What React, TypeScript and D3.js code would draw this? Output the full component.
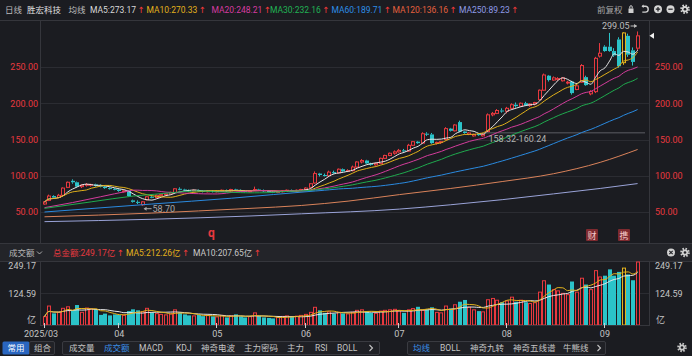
import React, { useEffect } from 'react';
import * as d3 from 'd3';

// ---------- data ----------
const opens = [
  61, 66, 72, 70, 73, 84, 93, 91, 85, 87,
  87, 88, 87, 85, 83, 82, 81, 78, 79, 66,
  64, 60, 67, 71, 70, 73, 74, 75, 77, 82,
  81, 80, 79, 80, 79, 78, 79, 78, 79, 80,
  79, 81, 80, 79, 78, 80, 81, 80, 79, 78,
  77, 78, 79, 80, 79, 80, 81, 84, 90, 103,
  101, 100, 105, 104, 109, 106, 107, 112, 119, 121,
  117, 115, 117, 124, 128, 131, 133, 135, 134, 142,
  147, 145, 158, 157, 145, 146, 150, 165, 162, 174,
  161, 157, 155, 158, 155, 161, 184, 186, 190, 189,
  193, 198, 196, 200, 197, 199, 205, 218, 238, 232,
  233, 231, 228, 230, 219, 229, 236, 213, 216, 265,
  278, 278, 272, 288, 256, 293, 273, 276,
];
const highs = [
  65, 74, 73, 75, 84, 92, 95, 92, 88, 90,
  89, 89, 88, 86, 84, 83, 82, 80, 80, 67,
  66, 65, 72, 73, 74, 75, 76, 78, 83, 84,
  82, 81, 81, 81, 80, 80, 80, 80, 81, 81,
  82, 82, 81, 80, 80, 85, 82, 81, 80, 79,
  79, 80, 81, 81, 81, 82, 84, 90, 106, 104,
  103, 107, 107, 110, 110, 109, 114, 120, 123, 122,
  118, 118, 125, 129, 132, 135, 137, 137, 144, 148,
  148, 160, 160, 159, 147, 148, 167, 166, 171, 176,
  162, 160, 158, 158, 158.32, 186, 188, 192, 193, 195,
  200, 201, 201, 202, 200, 202, 219, 241, 239, 237,
  236, 236, 231, 231, 226, 254, 238, 218, 264, 283,
  280, 297, 276, 291, 298, 296, 277, 299.05,
];
const lows = [
  60, 65, 68, 69, 72, 83, 89, 84, 83, 85,
  85, 85, 84, 82, 81, 80, 78, 77, 71, 63,
  61, 58.7, 66, 69, 69, 72, 73, 74, 76, 80,
  79, 78, 78, 78, 77, 77, 77, 77, 78, 78,
  78, 79, 78, 77, 77, 79, 79, 78, 77, 76,
  76, 77, 78, 78, 78, 79, 80, 83, 89, 99,
  99, 99, 103, 103, 105, 105, 106, 111, 117, 116,
  114, 114, 116, 123, 127, 129, 132, 133, 133, 141,
  144, 144, 155, 144, 143, 144, 149, 161, 161, 160,
  158, 156, 154, 155, 154, 160.24, 182, 185, 187, 186,
  191, 194, 195, 196, 195, 197, 204, 217, 230, 231,
  231, 230, 226, 212, 218, 228, 224, 211, 214, 263,
  271, 271, 264, 249, 253, 264, 252, 272,
];
const closes = [
  64, 72, 70, 73, 83, 91, 91, 85, 87, 88,
  88, 86, 85, 83, 82, 81, 79, 79, 72, 64,
  63, 64, 71, 70, 73, 74, 75, 77, 82, 81,
  80, 79, 80, 79, 78, 79, 78, 79, 80, 79,
  81, 80, 79, 78, 79, 81, 80, 79, 78, 77,
  78, 79, 80, 79, 80, 81, 83, 89, 103, 101,
  100, 105, 104, 109, 106, 107, 112, 119, 121, 117,
  115, 117, 124, 128, 131, 133, 135, 134, 142, 147,
  145, 158, 157, 145, 146, 147, 165, 162, 170, 161,
  159, 159, 157, 156, 157, 184, 186, 190, 189, 193,
  198, 196, 200, 197, 199, 201, 218, 239, 232, 235,
  234, 235, 229, 214, 224, 252, 225, 216, 262, 269,
  272, 272, 266, 251, 297, 267, 257, 293,
];
// 成交额 (亿)
const volumes = [
  33, 75, 46, 50, 66, 72, 59, 79, 50, 67, 64, 62, 40, 45, 38, 42,
  40, 38, 55, 62, 58, 52, 66, 48, 45, 42, 40, 44, 60, 50, 42, 38, 36, 40, 35, 38, 34,
  32, 38, 30, 36, 42, 34, 30, 33, 48, 36, 30, 28, 26, 30, 34, 36, 32, 35, 38,
  42, 50, 70, 58, 48, 52, 45, 50, 46, 44, 50, 58, 60, 55, 48, 46, 55, 58, 60, 62,
  55, 48, 60, 65, 72, 58, 62, 70, 50, 48, 75, 65, 80, 92, 99, 70, 60, 55, 52, 100, 105, 98, 90,
  95, 110, 92, 98, 90, 85, 88, 130, 175, 160, 140, 135, 125, 120, 172, 130, 185, 160, 140,
  215, 190, 195, 220, 195, 210, 225, 200, 177, 249.17,
];
const highlightIdx = 124;

// moving-average lines read off the picture where the earlier history is not shown
const ma20HeadIdx = [0, 6, 12, 18];
const ma20HeadVal = [56, 63, 71, 79];
const ma30HeadIdx = [0, 10, 19, 28];
const ma30HeadVal = [55, 64, 72, 77];
const ma60HeadIdx = [0, 23, 40, 58];
const ma60HeadVal = [50, 61, 69, 79];
const ma120Idx = [0, 23, 33, 44, 55, 65, 76, 87, 98, 109, 119, 127];
const ma120Val = [43.4, 48.5, 51.5, 55, 59, 65, 74, 82.5, 92, 102.8, 118.5, 136.2];
const ma250Idx = [0, 23, 44, 55, 76, 87, 98, 109, 119, 127];
const ma250Val = [36.7, 40, 44.5, 47.5, 54, 60, 67, 75, 82.5, 89.2];

const monthIdx = [0, 16, 37, 56, 76, 99, 120];
const monthLabels = ['2025/03', '04', '05', '06', '07', '08', '09'];
const priceTicks = [50, 100, 150, 200, 250];
const volTicks = [249.17, 124.59];

const maNames = ['MA5', 'MA10', 'MA20', 'MA30', 'MA60', 'MA120', 'MA250'];
const maLast = ['273.17', '270.33', '248.21', '232.16', '189.71', '136.16', '89.23'];
const volLegend = ['总金额:249.17亿', 'MA5:212.26亿', 'MA10:207.65亿'];
const tabs1 = ['成交量', '成交额', 'MACD', 'KDJ', '神奇电波', '主力密码', '主力', 'RSI', 'BOLL'];
const tabs2 = ['均线', 'BOLL', '神奇九转', '神奇五线谱', '牛熊线'];

// ---------- styles ----------
const BG = '#1b1c21';
const PANEL_HEAD = '#232429';
const RED = '#e8393f';
const CYAN = '#2bc3c9';
const GOLD = '#e3b21c';
const GRID = '#2b2c32';
const BORDER = '#35363c';
const TXT = '#c4c4c4';
const BLUE_ACTIVE = '#3a8ee6';
const FONT = "Roboto, 'Noto Sans CJK SC', sans-serif";
const maColors = ['#e6e6e6', '#e0b01a', '#d43c9c', '#1faa4e', '#2a8ae0', '#d9825a', '#9aa3d8'];
const maTextColors = ['#d8d8d8', '#e3b21c', '#d63ba0', '#21b254', '#2d8ee6', '#e5603e', '#8f9be8'];

function sma(arr: number[], k: number): number[] {
  return arr.map((_, i) => {
    const s = Math.max(0, i - k + 1);
    let t = 0;
    for (let j = s; j <= i; j++) t += arr[j];
    return t / (i - s + 1);
  });
}

function Gear({ cx, cy, color, bg }: { cx: number; cy: number; color: string; bg: string }) {
  const r = 3.7;
  const c = 2 * Math.PI * r;
  return (
    <g>
      <circle cx={cx} cy={cy} r={r} fill="none" stroke={color} strokeWidth={2.2} strokeDasharray={`${c / 16} ${c / 16}`} />
      <circle cx={cx} cy={cy} r={3.1} fill={color} />
      <circle cx={cx} cy={cy} r={1.3} fill={bg} />
    </g>
  );
}

function UpArrow() {
  return <tspan dx={1.5} fill="#f23a3a" fontFamily="DejaVu Sans">↑</tspan>;
}

export default function App() {
  useEffect(() => {
    document.body.style.margin = '0';
    document.body.style.background = BG;
  }, []);

  const n = closes.length;
  const xs = d3.scaleLinear().domain([0, n - 1]).range([44.5, 44.5 + 4.67 * (n - 1)]);
  const ys = d3.scaleLinear().domain([50, 250]).range([212, 67]);
  const yv = d3.scaleLinear().domain([0, 249.17]).range([325, 262]);

  const ma5 = sma(closes, 5);
  const ma10 = sma(closes, 10);
  const ma20 = sma(closes, 20);
  const ma30 = sma(closes, 30);
  const ma60 = sma(closes, 60);
  const joined = (arr: number[], k: number, hi: number[], hv: number[]): [number, number][] => [
    ...hi.map((i, j) => [i, hv[j]] as [number, number]),
    ...arr.map((v, i) => [i, v] as [number, number]).filter(([i]) => i >= k - 1),
  ];
  const series: [number, number][][] = [
    ma5.map((v, i) => [i, v]),
    ma10.map((v, i) => [i, v]),
    joined(ma20, 20, ma20HeadIdx, ma20HeadVal),
    joined(ma30, 30, ma30HeadIdx, ma30HeadVal),
    joined(ma60, 60, ma60HeadIdx, ma60HeadVal),
    ma120Idx.map((i, j) => [i, ma120Val[j]]),
    ma250Idx.map((i, j) => [i, ma250Val[j]]),
  ];
  const priceLine = d3.line<[number, number]>().x((d) => xs(d[0])).y((d) => ys(d[1])).curve(d3.curveMonotoneX);
  const vma5 = sma(volumes, 5);
  const vma10 = sma(volumes, 10);
  const volLine = d3.line<[number, number]>().x((d) => xs(d[0])).y((d) => yv(d[1])).curve(d3.curveMonotoneX);

  const lastY = ys(closes[n - 1]);
  const maxI = highs.indexOf(d3.max(highs) as number);
  const minI = lows.indexOf(d3.min(lows) as number);
  const gapTop = ys(160.24);
  const gapBot = ys(158.32);

  const headerXs = [90, 146.5, 211.5, 270, 331.5, 392.5, 459];

  return (
    <svg width={692} height={356} style={{ display: 'block', position: 'absolute', left: 0, top: 0 }} fontFamily={FONT}>
      <defs>
        <clipPath id="mainClip"><rect x={40} y={21} width={609} height={221} /></clipPath>
        <clipPath id="volClip"><rect x={40} y={261} width={609} height={64} /></clipPath>
      </defs>
      <rect x={0} y={0} width={692} height={356} fill={BG} />

      {/* ---------- header ---------- */}
      <line x1={0} x2={692} y1={20.5} y2={20.5} stroke={BORDER} />
      <text x={5} y={12.5} fontSize={8.5} fill="#bdbdbd">日线</text>
      <text x={27} y={12.5} fontSize={8.5} fill="#e2e2e2">胜宏科技</text>
      <text x={68.5} y={12.5} fontSize={8.5} fill="#bdbdbd">均线</text>
      {maNames.map((m, k) => (
        <text key={m} x={headerXs[k]} y={12.5} fontSize={8.5} fill={maTextColors[k]}>
          {`${m}:${maLast[k]}`}
          <UpArrow />
        </text>
      ))}
      <text x={597} y={12.5} fontSize={8.5} fill="#a8a8a8">前复权</text>
      {/* lock */}
      <rect x={628.5} y={8.5} width={5} height={4.5} fill="#cfcfcf" />
      <path d="M629.8,8.5 v-1.6 a1.2,1.2 0 0 1 2.4,0 v1.6" fill="none" stroke="#cfcfcf" strokeWidth={1} />
      {/* undo */}
      <path d="M642.5,6.3 H645.3 A2.9,2.9 0 0 1 645.3,12.1 H642.3" fill="none" stroke="#cfcfcf" strokeWidth={1.4} />
      <path d="M641.5,6.3 L643.6,4.6 L643.6,8 Z" fill="#cfcfcf" />
      {/* plus / minus */}
      <circle cx={658} cy={9.2} r={4} fill="#d6d6d6" />
      <path d="M655.8,9.2 H660.2 M658,7 V11.4" stroke={BG} strokeWidth={1.2} />
      <circle cx={670.5} cy={9.2} r={4} fill="#d6d6d6" />
      <path d="M668.3,9.2 H672.7" stroke={BG} strokeWidth={1.2} />
      <Gear cx={685} cy={9.2} color="#d6d6d6" bg={BG} />

      {/* ---------- main panel ---------- */}
      <line x1={40.5} x2={40.5} y1={21} y2={243} stroke={BORDER} />
      <line x1={649.5} x2={649.5} y1={21} y2={243} stroke={BORDER} />
      {priceTicks.map((p) => (
        <g key={p}>
          <line x1={41} x2={649} y1={Math.round(ys(p)) + 0.5} y2={Math.round(ys(p)) + 0.5} stroke={GRID} />
          <text x={38} y={ys(p) + 3.3} fontSize={9} fill={RED} textAnchor="end">{p.toFixed(2)}</text>
          <text x={655} y={ys(p) + 3.3} fontSize={9} fill={RED}>{p.toFixed(2)}</text>
        </g>
      ))}

      <g clipPath="url(#mainClip)">
        {/* unfilled gap */}
        <rect x={xs(94)} y={gapTop} width={645 - xs(94)} height={Math.max(1, gapBot - gapTop)} fill="#4a4b51" />
        {/* candles */}
        {closes.map((c, i) => {
          const o = opens[i];
          const up = c >= o;
          const color = i === highlightIdx ? GOLD : up ? RED : CYAN;
          const cx = Math.round(xs(i));
          const yT = ys(Math.max(o, c));
          const yB = ys(Math.min(o, c));
          const yH = ys(highs[i]);
          const yL = ys(lows[i]);
          return (
            <g key={i}>
              <line x1={cx - 0.5} x2={cx - 0.5} y1={yH} y2={yT} stroke={color} />
              <line x1={cx - 0.5} x2={cx - 0.5} y1={yB} y2={yL} stroke={color} />
              {up ? (
                <rect x={cx - 1.5} y={yT} width={3} height={Math.max(0.8, yB - yT)} fill={BG} stroke={color} strokeWidth={1} />
              ) : (
                <rect x={cx - 2} y={yT} width={4} height={Math.max(1, yB - yT)} fill={color} />
              )}
            </g>
          );
        })}
        {/* moving averages */}
        {series.map((s, k) => (
          <path key={k} d={priceLine(s) || ''} fill="none" stroke={maColors[k]} strokeWidth={1} />
        ))}
      </g>

      {/* annotations */}
      <text x={xs(maxI) - 8} y={29} fontSize={9} fill="#bdbdbd" textAnchor="end">{highs[maxI].toFixed(2)}</text>
      <line x1={xs(maxI) - 7} x2={xs(maxI) - 1} y1={26} y2={26} stroke="#bdbdbd" />
      <path d={`M${xs(maxI) - 0.5},26 l-3,-2 v4 Z`} fill="#bdbdbd" />
      <line x1={xs(minI) + 2} x2={xs(minI) + 9} y1={ys(lows[minI]) + 3} y2={ys(lows[minI]) + 3} stroke="#a8a8a8" />
      <path d={`M${xs(minI) + 1},${ys(lows[minI]) + 3} l3,-2 v4 Z`} fill="#a8a8a8" />
      <text x={xs(minI) + 10} y={ys(lows[minI]) + 6.3} fontSize={9} fill="#a8a8a8">{lows[minI].toFixed(2)}</text>
      <text x={xs(94) + 5} y={141.5} fontSize={9} fill="#b4b4b4">158.32-160.24</text>
      <path d={`M649.5,${lastY} l4.5,-3 v6 Z`} fill="#f0f0f0" />
      <text x={208} y={237} fontSize={12} fontWeight="bold" fill={RED}>q</text>
      <rect x={586} y={229} width={12} height={12} fill="#7e2a2f" rx={1} />
      <text x={592} y={238.5} fontSize={9} fill="#f2c6c6" textAnchor="middle">财</text>
      <rect x={618} y={229} width={12} height={12} fill="#7e2a2f" rx={1} />
      <text x={624} y={238.5} fontSize={9} fill="#f2c6c6" textAnchor="middle">携</text>

      {/* ---------- volume panel ---------- */}
      <rect x={0} y={243} width={692} height={18} fill={PANEL_HEAD} />
      <line x1={0} x2={692} y1={243.5} y2={243.5} stroke={BORDER} />
      <line x1={0} x2={692} y1={261.5} y2={261.5} stroke={BORDER} />
      <text x={9} y={256} fontSize={8.5} fill="#b8b8b8">成交额</text>
      <path d="M37,251.5 l2.5,2.5 l2.5,-2.5" fill="none" stroke="#b8b8b8" strokeWidth={0.9} />
      {volLegend.map((t, k) => (
        <text key={t} x={[53, 126, 193][k]} y={256} fontSize={8.5} fill={[RED, GOLD, '#c8c8c8'][k]}>
          {t}
          <UpArrow />
        </text>
      ))}
      <circle cx={671} cy={252.5} r={4} fill="#d0d0d0" />
      <path d="M669.3,250.8 L672.7,254.2 M672.7,250.8 L669.3,254.2" stroke={PANEL_HEAD} strokeWidth={1.1} />
      <Gear cx={685} cy={252.5} color="#d0d0d0" bg={PANEL_HEAD} />

      <line x1={40.5} x2={40.5} y1={262} y2={325} stroke={BORDER} />
      <line x1={649.5} x2={649.5} y1={262} y2={325} stroke={BORDER} />
      <line x1={40} x2={650} y1={325.5} y2={325.5} stroke={BORDER} />
      <line x1={41} x2={649} y1={Math.round(yv(124.59)) + 0.5} y2={Math.round(yv(124.59)) + 0.5} stroke={GRID} />
      {volTicks.map((v, k) => (
        <g key={v}>
          <text x={36} y={k === 0 ? 269 : yv(v) + 3.3} fontSize={9} fill={TXT} textAnchor="end">{v.toFixed(2)}</text>
          <text x={655} y={k === 0 ? 269 : yv(v) + 3.3} fontSize={9} fill={TXT}>{v.toFixed(2)}</text>
        </g>
      ))}
      <text x={36} y={323} fontSize={9} fill={TXT} textAnchor="end">亿</text>
      <text x={656} y={323} fontSize={9} fill={TXT}>亿</text>

      <g clipPath="url(#volClip)">
        {volumes.map((v, i) => {
          const up = closes[i] >= opens[i];
          const color = i === highlightIdx ? GOLD : up ? RED : CYAN;
          const cx = Math.round(xs(i));
          const yT = yv(v);
          return up ? (
            <rect key={i} x={cx - 1.5} y={yT} width={3} height={325 - yT} fill={BG} stroke={color} strokeWidth={1} />
          ) : (
            <rect key={i} x={cx - 2} y={yT} width={4} height={325 - yT} fill={color} />
          );
        })}
        <path d={volLine(vma10.map((v, i) => [i, v] as [number, number])) || ''} fill="none" stroke="#e6e6e6" strokeWidth={1} />
        <path d={volLine(vma5.map((v, i) => [i, v] as [number, number])) || ''} fill="none" stroke={GOLD} strokeWidth={1} />
      </g>

      {/* x axis */}
      {monthIdx.map((mi, k) => (
        <g key={mi}>
          <line x1={Math.round(xs(mi)) - 0.5} x2={Math.round(xs(mi)) - 0.5} y1={323} y2={328} stroke="#d0d0d0" />
          <text x={k === 0 ? 41 : xs(mi)} y={337} fontSize={9} fill={TXT} textAnchor="middle">{monthLabels[k]}</text>
        </g>
      ))}

      {/* ---------- bottom tabs ---------- */}
      <rect x={2.5} y={341.5} width={27} height={13} fill="#2a66c0" rx={1.5} />
      <text x={7.5} y={351.3} fontSize={8.5} fill="#ffffff">常用</text>
      <rect x={29.5} y={341.5} width={25} height={13} fill="#212227" stroke="#3a3b41" rx={1.5} />
      <text x={34} y={351.3} fontSize={8.5} fill={TXT}>组合</text>
      <rect x={62.5} y={341.5} width={317} height={13} fill="#1f2025" stroke="#3a3b41" rx={1.5} />
      {tabs1.map((t, k) => (
        <text key={t + k} x={[69, 104, 139, 176, 201, 244, 287, 315, 337][k]} y={351.3} fontSize={8.5} fill={k === 1 ? BLUE_ACTIVE : TXT}>{t}</text>
      ))}
      <path d="M369.5,345 l3,3 l-3,3" fill="none" stroke={TXT} strokeWidth={1.1} />
      <rect x={407.5} y={341.5} width={198} height={13} fill="#1f2025" stroke="#3a3b41" rx={1.5} />
      {tabs2.map((t, k) => (
        <text key={t + k} x={[413, 440, 470, 513, 563][k]} y={351.3} fontSize={8.5} fill={k === 0 ? BLUE_ACTIVE : TXT}>{t}</text>
      ))}
      <path d="M597.5,345 l3,3 l-3,3" fill="none" stroke={TXT} strokeWidth={1.1} />
      <Gear cx={682} cy={347.5} color="#c8c8c8" bg={BG} />
    </svg>
  );
}
